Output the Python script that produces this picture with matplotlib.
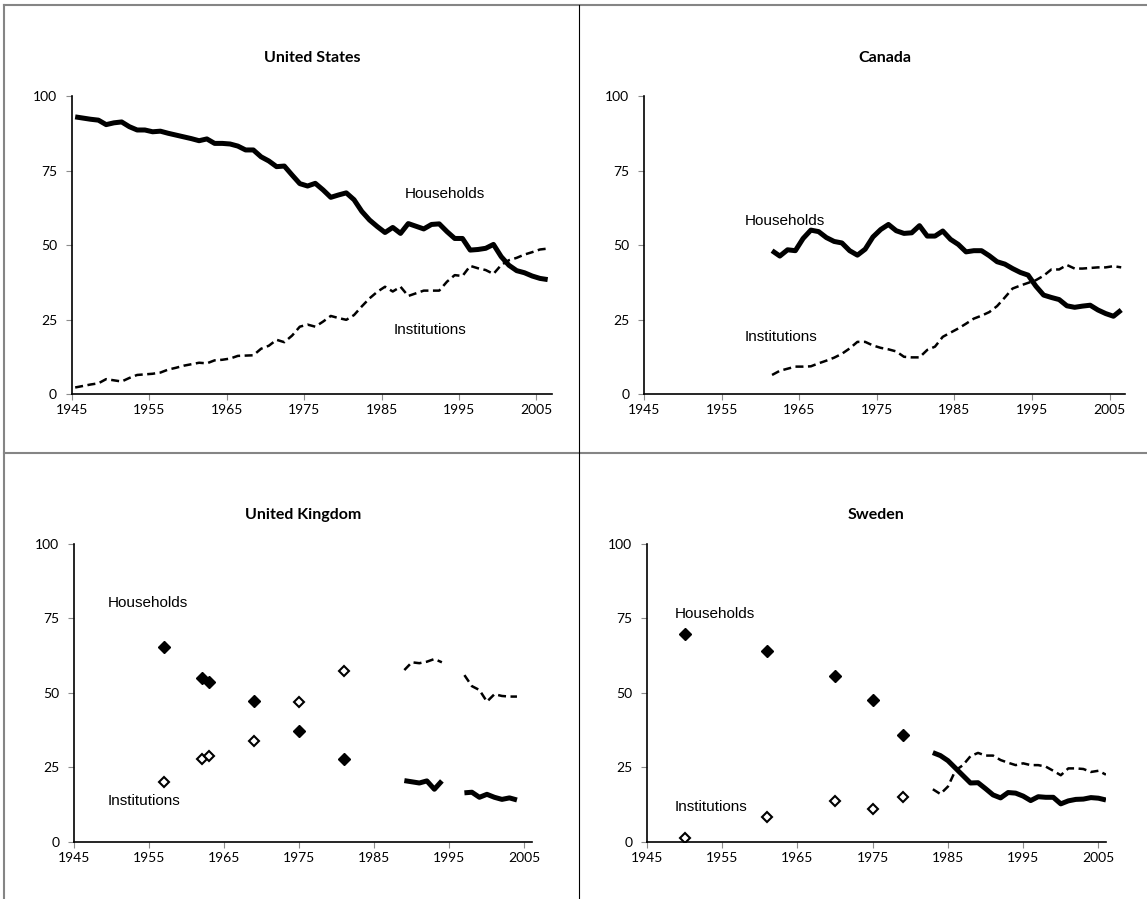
import numpy as np
import matplotlib
matplotlib.use('Agg')
from matplotlib import pyplot as plt
from matplotlib.lines import Line2D

nan = np.nan

# United States, annual 1945-2006
us_years = np.arange(1945, 2007)
us_households = [93.0, 92.6, 92.2, 91.9, 90.4, 91.0, 91.3, 89.7, 88.6, 88.6,
                 88.0, 88.2, 87.5, 86.9, 86.3, 85.7, 85.0, 85.6, 84.1, 84.1,
                 83.9, 83.2, 81.9, 81.9, 79.6, 78.2, 76.3, 76.5, 73.5, 70.6,
                 69.8, 70.7, 68.5, 66.0, 66.8, 67.5, 65.2, 61.3, 58.4, 56.2,
                 54.2, 55.9, 53.9, 57.2, 56.3, 55.4, 56.9, 57.1, 54.5, 52.2,
                 52.2, 48.3, 48.5, 48.9, 50.2, 46.1, 43.2, 41.4, 40.7, 39.6,
                 38.8, 38.4]
us_institutions = [2.2, 2.7, 3.2, 3.6, 5.0, 4.6, 4.2, 5.4, 6.4, 6.6,
                   6.8, 7.2, 8.2, 8.8, 9.5, 10.0, 10.5, 10.3, 11.3, 11.5,
                   11.9, 12.8, 12.9, 13.0, 15.2, 16.2, 18.2, 17.4, 19.6, 22.6,
                   23.3, 22.6, 24.3, 26.2, 25.5, 24.9, 26.5, 29.4, 32.1, 34.3,
                   36.0, 34.4, 36.0, 32.9, 33.8, 34.7, 34.7, 34.7, 37.7, 39.9,
                   39.6, 43.0, 42.2, 41.6, 40.3, 43.3, 44.9, 45.7, 46.8, 47.6,
                   48.5, 48.8]

# Canada, annual 1961-2006
ca_years = np.arange(1961, 2007)
ca_households = [48.1, 46.3, 48.4, 48.1, 52.2, 55.0, 54.5, 52.5, 51.2, 50.7,
                 48.1, 46.6, 48.6, 52.7, 55.2, 56.9, 54.8, 53.9, 54.1, 56.5,
                 53.0, 53.0, 54.7, 51.9, 50.2, 47.7, 48.1, 48.1, 46.4, 44.4,
                 43.6, 42.1, 40.8, 39.9, 36.2, 33.2, 32.4, 31.7, 29.6, 29.1,
                 29.5, 29.8, 28.2, 27.0, 26.1, 28.2]
ca_institutions = [6.4, 7.8, 8.5, 9.2, 9.2, 9.3, 10.3, 11.2, 12.2, 13.5,
                   15.3, 17.5, 17.5, 16.3, 15.5, 15.0, 14.3, 12.5, 12.3, 12.3,
                   14.8, 15.9, 19.2, 20.6, 22.0, 23.6, 25.3, 26.3, 27.5, 29.5,
                   32.4, 35.4, 36.4, 37.3, 38.2, 39.7, 41.8, 41.8, 43.3, 42.1,
                   42.1, 42.3, 42.5, 42.5, 42.9, 42.5]

# United Kingdom: survey points, then annual series with a gap
uk_pt_years = [1957, 1962, 1963, 1969, 1975, 1981]
uk_pt_households = [65.5, 55.1, 53.8, 47.2, 37.4, 28.0]
uk_pt_institutions = [20.2, 28.0, 28.9, 34.0, 47.1, 57.5]
uk_years = np.arange(1989, 2005)
uk_households = [20.6, 20.2, 19.8, 20.5, 17.7, 20.5, nan, nan,
                 16.5, 16.7, 15.0, 16.0, 15.0, 14.3, 14.8, 14.1]
uk_institutions = [57.7, 60.3, 60.0, 60.5, 61.4, 60.3, nan, nan,
                   56.0, 52.3, 51.0, 47.1, 49.6, 49.0, 48.8, 48.8]

# Sweden
se_pt_years = [1950, 1961, 1970, 1975, 1979]
se_pt_households = [69.8, 64.1, 55.8, 47.7, 35.9]
se_pt_institutions = [1.5, 8.5, 13.9, 11.2, 15.0]
se_years = np.arange(1983, 2007)
se_households = [30.0, 29.0, 27.3, 24.8, 22.3, 19.8, 19.9, 17.9, 15.8, 14.8,
                 16.6, 16.4, 15.4, 13.9, 15.2, 15.0, 15.0, 12.8, 13.8, 14.3,
                 14.4, 14.9, 14.7, 14.1]
se_institutions = [17.7, 16.1, 18.6, 24.0, 25.8, 28.8, 29.9, 29.0, 29.0, 27.5,
                   26.6, 25.8, 26.4, 25.8, 25.8, 25.3, 23.9, 22.4, 24.7, 24.7,
                   24.5, 23.5, 23.9, 22.6]

x_ticks = [1945, 1955, 1965, 1975, 1985, 1995, 2005]
y_ticks = [0, 25, 50, 75, 100]

tick_font = ['Lato', 'DejaVu Sans']
note_font = ['Liberation Sans', 'DejaVu Sans']

solid = dict(color='black', lw=3.6, solid_capstyle='butt', solid_joinstyle='round')
dashed = dict(color='black', lw=1.8, ls=(0, (3.2, 1.8)))
filled = dict(ls='none', marker='D', ms=6, mfc='black', mec='black')
hollow = dict(ls='none', marker='D', ms=5, mfc='white', mec='black', mew=1.5)

fig = plt.figure(figsize=(11.47, 8.99), dpi=100)


def setup(ax, xmax):
    ax.set_xlim(1945, xmax)
    ax.set_ylim(0, 100)
    ax.set_xticks(x_ticks)
    ax.set_yticks(y_ticks)
    for s in ['top', 'right']:
        ax.spines[s].set_visible(False)
    for s in ['left', 'bottom']:
        ax.spines[s].set_linewidth(1.2)
    ax.tick_params(axis='both', direction='out', length=4, width=0.8,
                   color='#8c8c8c', labelsize=10)
    ax.tick_params(axis='y', pad=6.5)
    ax.tick_params(axis='x', pad=3.5)
    for lab in ax.get_xticklabels() + ax.get_yticklabels():
        lab.set_fontfamily(tick_font)


ax1 = fig.add_axes([0.0625, 0.5617, 0.4187, 0.3315])
setup(ax1, 2007)
ax1.plot(us_years + 0.45, us_households, **solid)
ax1.plot(us_years + 0.45, us_institutions, **dashed)
ax1.text(1988, 67, 'Households', family=note_font, fontsize=11, va='center')
ax1.text(1986.6, 21.5, 'Institutions', family=note_font, fontsize=11, va='center')

ax2 = fig.add_axes([0.5615, 0.5617, 0.4194, 0.3315])
setup(ax2, 2007)
ax2.plot(ca_years + 0.5, ca_households, **solid)
ax2.plot(ca_years + 0.5, ca_institutions, **dashed)
ax2.text(1958, 58, 'Households', family=note_font, fontsize=11, va='center')
ax2.text(1958, 19.1, 'Institutions', family=note_font, fontsize=11, va='center')

ax3 = fig.add_axes([0.0645, 0.0634, 0.3993, 0.3315])
setup(ax3, 2006)
ax3.plot(uk_years, uk_households, **solid)
ax3.plot(uk_years, uk_institutions, **dashed)
ax3.plot(uk_pt_years, uk_pt_households, **filled)
ax3.plot(uk_pt_years, uk_pt_institutions, **hollow)
ax3.text(1949.5, 80.2, 'Households', family=note_font, fontsize=11, va='center')
ax3.text(1949.5, 13.8, 'Institutions', family=note_font, fontsize=11, va='center')

ax4 = fig.add_axes([0.564, 0.0634, 0.4002, 0.3315])
setup(ax4, 2006)
ax4.plot(se_years, se_households, **solid)
ax4.plot(se_years, se_institutions, **dashed)
ax4.plot(se_pt_years, se_pt_households, **filled)
ax4.plot(se_pt_years, se_pt_institutions, **hollow)
ax4.text(1948.7, 76.5, 'Households', family=note_font, fontsize=11, va='center')
ax4.text(1948.7, 11.7, 'Institutions', family=note_font, fontsize=11, va='center')

titles = ['United States', 'Canada', 'United Kingdom', 'Sweden']
for ax, title, ty in zip([ax1, ax2, ax3, ax4], titles, [0.9355, 0.9355, 0.4271, 0.4271]):
    pos = ax.get_position()
    fig.text(pos.x0 + pos.width / 2, ty, title, ha='center', va='center',
             fontsize=11.5, fontweight='bold', family=tick_font)

# panel frame
gray = '#858585'
fig.add_artist(Line2D([0.0035, 1], [0.9944, 0.9944], color=gray, lw=1.5))
fig.add_artist(Line2D([0.0035, 1], [0.4961, 0.4961], color=gray, lw=1.5))
fig.add_artist(Line2D([0.0035, 0.0035], [0, 0.9944], color=gray, lw=1.5))
fig.add_artist(Line2D([0.5048, 0.5048], [0, 0.9944], color='black', lw=0.8))

fig.savefig('out.png', dpi=100)
